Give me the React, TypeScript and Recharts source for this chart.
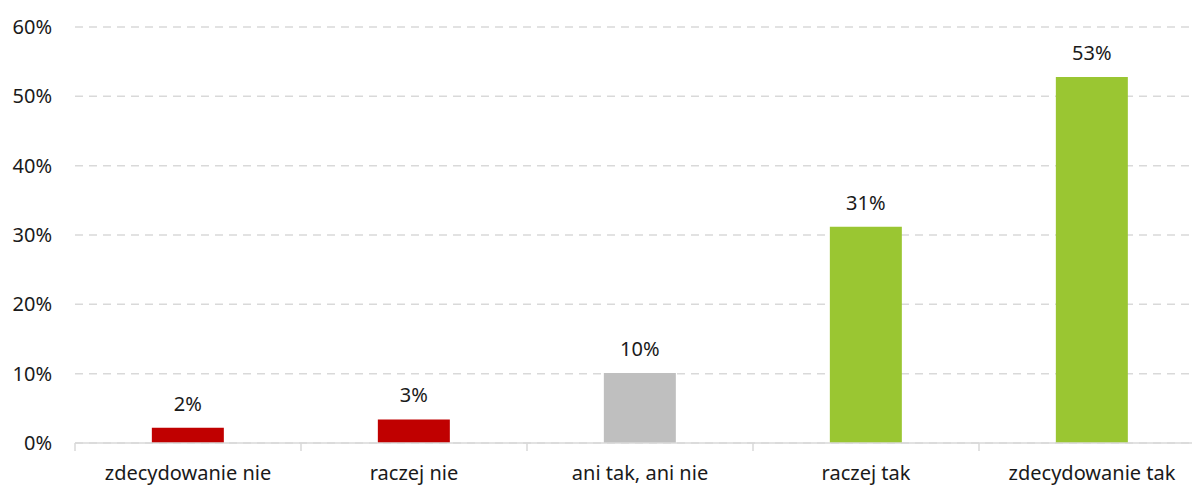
import React from "react";
import { BarChart, Bar, XAxis, YAxis, CartesianGrid, Cell, LabelList } from "recharts";

const categories = ["zdecydowanie nie", "raczej nie", "ani tak, ani nie", "raczej tak", "zdecydowanie tak"];
const values = [2.2, 3.4, 10.1, 31.2, 52.8];
const yTicks = [0, 10, 20, 30, 40, 50, 60];
const barColors = ["#C00000", "#C00000", "#BFBFBF", "#9AC632", "#9AC632"];

const data = categories.map((c, i) => ({ name: c, value: values[i] }));

const FONT = "'Noto Sans', sans-serif";
const TEXT = "#1a1a1a";
const AXIS = "#D9D9D9";

const CategoryTick = (props: any) => {
  const { x, y, payload } = props;
  const off = payload && typeof payload.offset === "number" ? payload.offset : 0;
  return (
    <g>
      <line x1={x - off} x2={x - off} y1={y} y2={y + 8} stroke={AXIS} strokeWidth={1.5} />
      <text x={x} y={y + 37} textAnchor="middle" fontSize={20} fontFamily={FONT} fill={TEXT}>
        {payload.value}
      </text>
    </g>
  );
};

export default function App() {
  return (
    <div style={{ position: "absolute", left: 0, top: 0, width: 1192, height: 485, overflow: "hidden", background: "#fff" }}>
      <BarChart
        width={1205}
        height={485}
        data={data}
        margin={{ top: 27, right: 0, bottom: 0, left: 0 }}
        barCategoryGap="34%"
      >
        <CartesianGrid vertical={false} stroke={AXIS} strokeDasharray="8 6" strokeWidth={1.5} />
        <XAxis
          dataKey="name"
          height={42}
          axisLine={{ stroke: AXIS, strokeWidth: 1.5 }}
          tickLine={false}
          tickSize={0}
          tickMargin={0}
          tick={<CategoryTick />}
          interval={0}
        />
        <YAxis
          width={75}
          domain={[0, 60]}
          ticks={yTicks}
          tickFormatter={(v: number) => `${v}%`}
          axisLine={false}
          tickLine={false}
          tickSize={0}
          tickMargin={23}
          tick={{ fontSize: 20, fontFamily: FONT, fill: TEXT }}
          interval={0}
        />
        <Bar dataKey="value" isAnimationActive={false}>
          {data.map((d, i) => (
            <Cell key={d.name} fill={barColors[i]} />
          ))}
          <LabelList
            dataKey="value"
            position="top"
            offset={17}
            formatter={(v: number) => `${Math.round(v)}%`}
            style={{ fontSize: 20, fontFamily: FONT, fill: TEXT }}
          />
        </Bar>
      </BarChart>
    </div>
  );
}
